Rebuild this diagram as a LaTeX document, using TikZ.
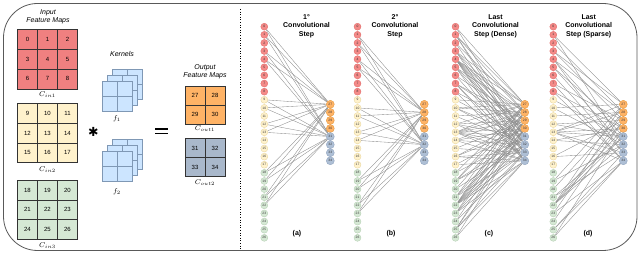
\documentclass[tikz,border=0pt]{standalone}
\usepackage{fontspec}
\setmainfont{Liberation Sans}
\newfontfamily\djv{DejaVu Sans}
\usetikzlibrary{backgrounds}
\definecolor{gred}{HTML}{F08080}
\definecolor{gyel}{HTML}{FFF2CC}
\definecolor{ggrn}{HTML}{D5E8D4}
\definecolor{gora}{HTML}{FFB366}
\definecolor{gblu}{HTML}{A9B8CB}
\definecolor{kblu}{HTML}{CCE5FF}
\definecolor{kbrd}{HTML}{7F98B5}
\definecolor{nred}{HTML}{F48A88}
\definecolor{nredb}{HTML}{E06A68}
\definecolor{nyelb}{HTML}{E8D59C}
\definecolor{ngrnb}{HTML}{B5CFB2}
\definecolor{norab}{HTML}{E0963A}
\definecolor{nblu}{HTML}{AEBFD5}
\definecolor{nblub}{HTML}{8EA2BD}
\begin{document}
\begin{tikzpicture}[x=1pt,y=-1pt,
  cell/.style={draw=black!80, line width=0.5pt, minimum width=20pt, minimum height=19.8pt, inner sep=0pt, font=\fontsize{6}{6}\selectfont},
  ocell/.style={cell, minimum height=19pt},
  kcell/.style={draw=kbrd, fill=kblu, line width=0.5pt, minimum size=15pt, inner sep=0pt},
  ttl/.style={font=\fontsize{7}{8.3}\selectfont\itshape, align=center, inner sep=0pt},
  stp/.style={font=\fontsize{7}{8.5}\selectfont\bfseries, align=center, inner sep=0pt},
  lab/.style={font=\fontsize{7}{7}\selectfont, inner sep=0pt},
  gn/.style={circle, minimum size=7pt, inner sep=0pt, line width=0.35pt, font=\fontsize{3.3}{3.3}\selectfont, text=black!80},
  nr/.style={gn, fill=nred, draw=nredb},
  ny/.style={gn, fill=gyel, draw=nyelb},
  ng/.style={gn, fill=ggrn, draw=ngrnb},
  no/.style={gn, minimum size=8pt, fill=gora, draw=norab},
  nb/.style={gn, minimum size=8pt, fill=nblu, draw=nblub},
  edge/.style={draw=black!45, line width=0.35pt}
]
\useasboundingbox (0,0) rectangle (640,253);
% frame
\draw[black!65, line width=0.8pt, rounded corners=34] (3.5,3.5) rectangle (637,250.5);
\draw[black, line width=1.1pt, dash pattern=on 1pt off 1.6pt] (240.5,9) -- (240.5,249);

% ---------- left panel ----------
\node[ttl] (tin) at (48,16.5) {Input\\Feature Maps};
\foreach \v [count=\n from 0] in {0,...,8} {
  \pgfmathtruncatemacro\cc{mod(\n,3)}\pgfmathtruncatemacro\rr{\n/3}
  \node[cell, fill=gred] (g\v) at (27.5+20*\cc, 39.3+19.8*\rr) {\v};
}
\foreach \v [count=\n from 0] in {9,...,17} {
  \pgfmathtruncatemacro\cc{mod(\n,3)}\pgfmathtruncatemacro\rr{\n/3}
  \node[cell, fill=gyel] (g\v) at (27.5+20*\cc, 113.2+19.8*\rr) {\v};
}
\foreach \v [count=\n from 0] in {18,...,26} {
  \pgfmathtruncatemacro\cc{mod(\n,3)}\pgfmathtruncatemacro\rr{\n/3}
  \node[cell, fill=ggrn] (g\v) at (27.5+20*\cc, 190+19.8*\rr) {\v};
}
\node[lab] (cin1) at (47.5,94.5) {$C_{in1}$};
\node[lab] (cin2) at (47.5,169.5) {$C_{in2}$};
\node[lab] (cin3) at (47.5,245.5) {$C_{in3}$};

% kernels
\node[ttl] (tk) at (122,54) {Kernels};
\foreach \s/\yf in {1/96.7, 2/166.3} {
  \foreach \d in {2,1,0} {
    \foreach \cx/\cy in {0/0,1/0,0/1,1/1} {
      \node[kcell] (k\s\d\cx\cy) at (109.4+15*\cx+5.3*\d, \yf-7.5+15*\cy-6.2*\d) {};
    }
  }
}
\node[lab] (f1) at (117,118.5) {$f_1$};
\node[lab] (f2) at (117,192) {$f_2$};

% operators
\node[inner sep=0pt, font=\djv\fontsize{12.5}{12.5}\selectfont] (ast) at (93.3,131.5) {✱};
\coordinate (eqa) at (155,129);
\coordinate (eqb) at (167.7,129);
\coordinate (eqc) at (155,133.8);
\coordinate (eqd) at (167.7,133.8);
\draw[line width=1.2pt] (eqa) -- (eqb) (eqc) -- (eqd);

% outputs
\node[ttl] (tout) at (205,72) {Output\\Feature Maps};
\foreach \v [count=\n from 0] in {27,...,30} {
  \pgfmathtruncatemacro\cc{mod(\n,2)}\pgfmathtruncatemacro\rr{\n/2}
  \node[ocell, fill=gora] (g\v) at (195+20*\cc, 95.5+19*\rr) {\v};
}
\foreach \v [count=\n from 0] in {31,...,34} {
  \pgfmathtruncatemacro\cc{mod(\n,2)}\pgfmathtruncatemacro\rr{\n/2}
  \node[ocell, fill=gblu] (g\v) at (195+20*\cc, 148+19*\rr) {\v};
}
\node[lab] (cout1) at (205,128.5) {$C_{out1}$};
\node[lab] (cout2) at (205,182.5) {$C_{out2}$};

% ---------- graph panels ----------
\foreach \p/\xi/\xo in {a/264.3/330.3, b/357.5/424.3, c/455.5/524.8, d/553.3/623.3} {
  \foreach \i in {0,...,26} {
    \ifnum\i<9 \def\st{nr}\else\ifnum\i<18 \def\st{ny}\else\def\st{ng}\fi\fi
    \node[\st] (\p\i) at (\xi, 26.7+8.12*\i) {\i};
  }
  \foreach \j in {27,...,34} {
    \ifnum\j<31 \def\st{no}\else\def\st{nb}\fi
    \node[\st] (\p\j) at (\xo, 104.3+8.07*\j-217.89) {\j};
  }
}
\node[stp] (ta) at (306.5,26) {1°\\Convolutional\\Step};
\node[stp] (tb) at (395,26) {2°\\Convolutional\\Step};
\node[stp] (tc) at (495.5,26) {Last\\Convolutional\\Step (Dense)};
\node[stp] (td) at (588.7,26) {Last\\Convolutional\\Step (Sparse)};
\node[stp] (la) at (297,234) {(a)};
\node[stp] (lb) at (391,234) {(b)};
\node[stp] (lc) at (489,234) {(c)};
\node[stp] (ld) at (588,234) {(d)};

\begin{scope}[on background layer]
  % (a) first step
  \foreach \o in {27,31} \foreach \c in {0,9,18} \foreach \k in {0,1,3,4} {
    \pgfmathtruncatemacro\ii{\c+\k}
    \draw[edge] (a\ii) -- (a\o);
  }
  % (b) second step
  \foreach \o in {28,32} \foreach \c in {0,9,18} \foreach \k in {1,2,4,5} {
    \pgfmathtruncatemacro\ii{\c+\k}
    \draw[edge] (b\ii) -- (b\o);
  }
  % (c) dense
  \foreach \o/\bb in {27/0,28/1,29/3,30/4,31/0,32/1,33/3,34/4} \foreach \c in {0,9,18} \foreach \k in {0,1,3,4} {
    \pgfmathtruncatemacro\ii{\bb+\c+\k}
    \draw[edge] (c\ii) -- (c\o);
  }
  % (d) sparse
  \foreach \o/\ii in {27/1,27/3,27/10,27/13,27/19,27/22,
                      28/2,28/4,28/11,28/13,28/20,28/23,
                      29/3,29/7,29/12,29/16,29/22,29/24,
                      30/5,30/8,30/13,30/14,30/22,30/26,
                      31/4,31/9,31/12,31/13,31/21,31/22,
                      32/1,32/5,32/10,32/14,32/19,32/22,
                      33/4,33/6,33/13,33/16,33/21,33/25,
                      34/7,34/8,34/13,34/23,34/25,34/26} {
    \draw[edge] (d\ii) -- (d\o);
  }
\end{scope}
\end{tikzpicture}
\end{document}
